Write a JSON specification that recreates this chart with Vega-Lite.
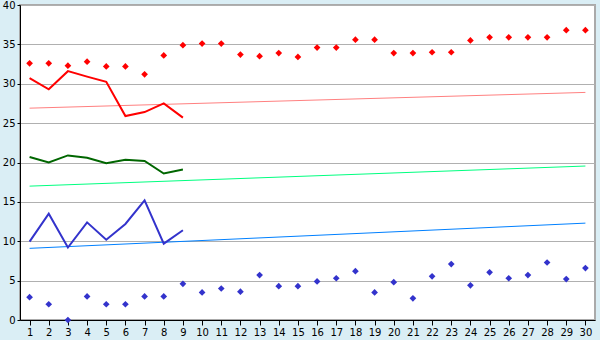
{
  "$schema": "https://vega.github.io/schema/vega-lite/v6.json",
  "width": 575,
  "height": 315,
  "autosize": {"type": "none"},
  "padding": {"left": 20, "top": 5, "right": 5, "bottom": 20},
  "background": "#daeef5",
  "config": {
    "view": {"fill": "white", "stroke": "#aaaaaa", "strokeWidth": 2},
    "axis": {"labelFont": "DejaVu Sans", "labelFontSize": 10, "labelColor": "black", "domainColor": "black", "tickColor": "black", "gridColor": "#b0b0b0", "gridOpacity": 1}
  },
  "datasets": {
    "pts": [
      {"day": 1, "series": "red", "value": 32.6}, {"day": 2, "series": "red", "value": 32.6}, {"day": 3, "series": "red", "value": 32.3},
      {"day": 4, "series": "red", "value": 32.8}, {"day": 5, "series": "red", "value": 32.2}, {"day": 6, "series": "red", "value": 32.2},
      {"day": 7, "series": "red", "value": 31.2}, {"day": 8, "series": "red", "value": 33.6}, {"day": 9, "series": "red", "value": 34.9},
      {"day": 10, "series": "red", "value": 35.1}, {"day": 11, "series": "red", "value": 35.1}, {"day": 12, "series": "red", "value": 33.7},
      {"day": 13, "series": "red", "value": 33.5}, {"day": 14, "series": "red", "value": 33.9}, {"day": 15, "series": "red", "value": 33.4},
      {"day": 16, "series": "red", "value": 34.6}, {"day": 17, "series": "red", "value": 34.6}, {"day": 18, "series": "red", "value": 35.6},
      {"day": 19, "series": "red", "value": 35.6}, {"day": 20, "series": "red", "value": 33.9}, {"day": 21, "series": "red", "value": 33.9},
      {"day": 22, "series": "red", "value": 34.0}, {"day": 23, "series": "red", "value": 34.0}, {"day": 24, "series": "red", "value": 35.5},
      {"day": 25, "series": "red", "value": 35.9}, {"day": 26, "series": "red", "value": 35.9}, {"day": 27, "series": "red", "value": 35.9},
      {"day": 28, "series": "red", "value": 35.9}, {"day": 29, "series": "red", "value": 36.8}, {"day": 30, "series": "red", "value": 36.8},
      {"day": 1, "series": "blue", "value": 2.9}, {"day": 2, "series": "blue", "value": 2.0}, {"day": 3, "series": "blue", "value": 0.0},
      {"day": 4, "series": "blue", "value": 3.0}, {"day": 5, "series": "blue", "value": 2.0}, {"day": 6, "series": "blue", "value": 2.0},
      {"day": 7, "series": "blue", "value": 3.0}, {"day": 8, "series": "blue", "value": 3.0}, {"day": 9, "series": "blue", "value": 4.6},
      {"day": 10, "series": "blue", "value": 3.5}, {"day": 11, "series": "blue", "value": 4.0}, {"day": 12, "series": "blue", "value": 3.6},
      {"day": 13, "series": "blue", "value": 5.7}, {"day": 14, "series": "blue", "value": 4.3}, {"day": 15, "series": "blue", "value": 4.3},
      {"day": 16, "series": "blue", "value": 4.9}, {"day": 17, "series": "blue", "value": 5.3}, {"day": 18, "series": "blue", "value": 6.2},
      {"day": 19, "series": "blue", "value": 3.5}, {"day": 20, "series": "blue", "value": 4.8}, {"day": 21, "series": "blue", "value": 2.75},
      {"day": 22, "series": "blue", "value": 5.55}, {"day": 23, "series": "blue", "value": 7.1}, {"day": 24, "series": "blue", "value": 4.4},
      {"day": 25, "series": "blue", "value": 6.05}, {"day": 26, "series": "blue", "value": 5.3}, {"day": 27, "series": "blue", "value": 5.7},
      {"day": 28, "series": "blue", "value": 7.3}, {"day": 29, "series": "blue", "value": 5.2}, {"day": 30, "series": "blue", "value": 6.6}
    ],
    "lines": [
      {"day": 1, "series": "red", "value": 30.7}, {"day": 2, "series": "red", "value": 29.3}, {"day": 3, "series": "red", "value": 31.6},
      {"day": 4, "series": "red", "value": 30.9}, {"day": 5, "series": "red", "value": 30.25}, {"day": 6, "series": "red", "value": 25.9},
      {"day": 7, "series": "red", "value": 26.4}, {"day": 8, "series": "red", "value": 27.5}, {"day": 9, "series": "red", "value": 25.7},
      {"day": 1, "series": "green", "value": 20.7}, {"day": 2, "series": "green", "value": 20.0}, {"day": 3, "series": "green", "value": 20.9},
      {"day": 4, "series": "green", "value": 20.6}, {"day": 5, "series": "green", "value": 19.9}, {"day": 6, "series": "green", "value": 20.35},
      {"day": 7, "series": "green", "value": 20.2}, {"day": 8, "series": "green", "value": 18.6}, {"day": 9, "series": "green", "value": 19.1},
      {"day": 1, "series": "blue", "value": 9.95}, {"day": 2, "series": "blue", "value": 13.5}, {"day": 3, "series": "blue", "value": 9.2},
      {"day": 4, "series": "blue", "value": 12.4}, {"day": 5, "series": "blue", "value": 10.2}, {"day": 6, "series": "blue", "value": 12.2},
      {"day": 7, "series": "blue", "value": 15.2}, {"day": 8, "series": "blue", "value": 9.7}, {"day": 9, "series": "blue", "value": 11.4}
    ],
    "trend": [
      {"day": 1, "series": "red", "value": 26.9}, {"day": 30, "series": "red", "value": 28.9},
      {"day": 1, "series": "green", "value": 17.0}, {"day": 30, "series": "green", "value": 19.55},
      {"day": 1, "series": "blue", "value": 9.1}, {"day": 30, "series": "blue", "value": 12.3}
    ]
  },
  "encoding": {
    "x": {"field": "day", "type": "quantitative", "scale": {"domain": [0.5, 30.5], "nice": false, "zero": false},
      "axis": {"title": null, "values": [1,2,3,4,5,6,7,8,9,10,11,12,13,14,15,16,17,18,19,20,21,22,23,24,25,26,27,28,29,30], "grid": false, "tickSize": 5, "labelPadding": 2, "labelFlush": false, "labelOverlap": false}},
    "y": {"field": "value", "type": "quantitative", "scale": {"domain": [0, 40], "nice": false},
      "axis": {"title": null, "values": [0,5,10,15,20,25,30,35,40], "grid": true, "tickSize": 3, "labelPadding": 2, "labelFlush": false}}
  },
  "layer": [
    {
      "data": {"name": "trend"},
      "mark": {"type": "line", "strokeWidth": 1},
      "encoding": {"color": {"field": "series", "type": "nominal", "legend": null,
        "scale": {"domain": ["red", "green", "blue"], "range": ["#ff8080", "#00ff80", "#0080ff"]}}}
    },
    {
      "data": {"name": "lines"},
      "mark": {"type": "line", "strokeWidth": 2},
      "encoding": {"stroke": {"field": "series", "type": "nominal", "legend": null,
        "scale": {"domain": ["red", "green", "blue"], "range": ["#ff0000", "#006600", "#3333cc"]}}}
    },
    {
      "data": {"name": "pts"},
      "mark": {"type": "point", "shape": "diamond", "filled": true, "size": 45, "opacity": 1},
      "encoding": {"fill": {"field": "series", "type": "nominal", "legend": null,
        "scale": {"domain": ["red", "blue"], "range": ["#ff0000", "#3333cc"]}}}
    }
  ],
  "resolve": {"scale": {"color": "independent", "stroke": "independent", "fill": "independent"}}
}
